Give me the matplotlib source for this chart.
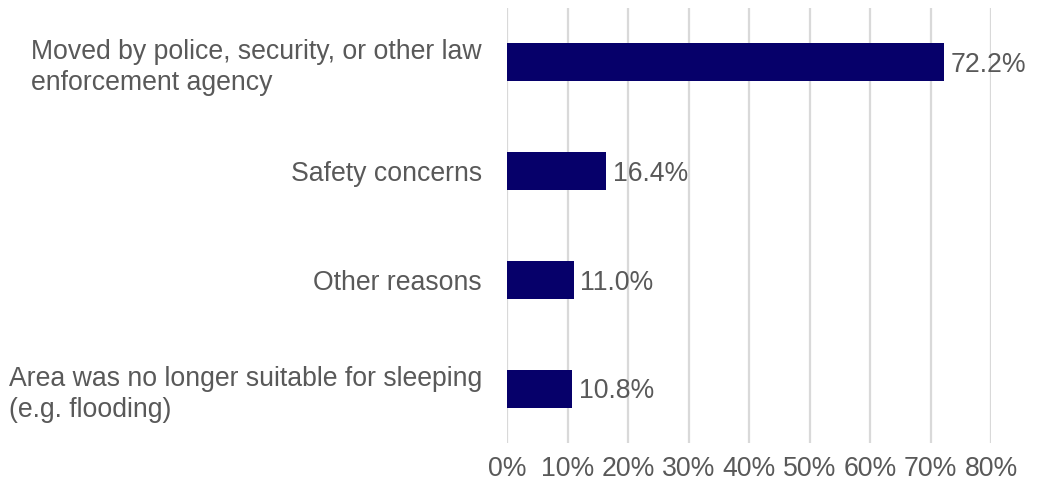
import matplotlib.pyplot as plt
from matplotlib.ticker import PercentFormatter

plt.rcParams['font.family'] = ['Liberation Sans', 'DejaVu Sans']

CATEGORIES = [
    "Moved by police, security, or other law\nenforcement agency",
    "Safety concerns",
    "Other reasons",
    "Area was no longer suitable for sleeping\n(e.g. flooding)",
]
VALUES = [72.2, 16.4, 11.0, 10.8]
XTICKS = [0, 10, 20, 30, 40, 50, 60, 70, 80]

BAR_COLOR = '#06006a'
TEXT_COLOR = '#595959'
GRID_COLOR = '#d9d9d9'
FONT_SIZE = 19.2

fig = plt.figure(figsize=(10.39, 4.88), dpi=100)
ax = fig.add_axes([507 / 1039, 1 - 443 / 488, 484 / 1039, 435 / 488])

pos = list(range(len(CATEGORIES)))
bars = ax.barh(pos, VALUES, height=0.35, color=BAR_COLOR, zorder=3)

for bar, v in zip(bars, VALUES):
    ax.annotate(f"{v:.1f}%", (bar.get_width(), bar.get_y() + bar.get_height() / 2),
                xytext=(5, -2), textcoords='offset points', va='center', ha='left',
                fontsize=FONT_SIZE, color=TEXT_COLOR, zorder=4)

ax.set_xlim(0, 80)
ax.set_ylim(len(CATEGORIES) - 0.5, -0.5)
ax.set_xticks(XTICKS)
ax.xaxis.set_major_formatter(PercentFormatter(decimals=0))
ax.set_yticks(pos)
ax.set_yticklabels(CATEGORIES)
for lbl in ax.get_yticklabels():
    lbl.set_multialignment('left')
    lbl.set_linespacing(1.25)

ax.tick_params(axis='x', length=0, pad=9, labelsize=FONT_SIZE, labelcolor=TEXT_COLOR)
ax.tick_params(axis='y', length=0, pad=18, labelsize=FONT_SIZE, labelcolor=TEXT_COLOR)
ax.grid(axis='x', color=GRID_COLOR, linewidth=1.6, zorder=0)
for s in ax.spines.values():
    s.set_visible(False)

fig.savefig("out.png", dpi=100)
